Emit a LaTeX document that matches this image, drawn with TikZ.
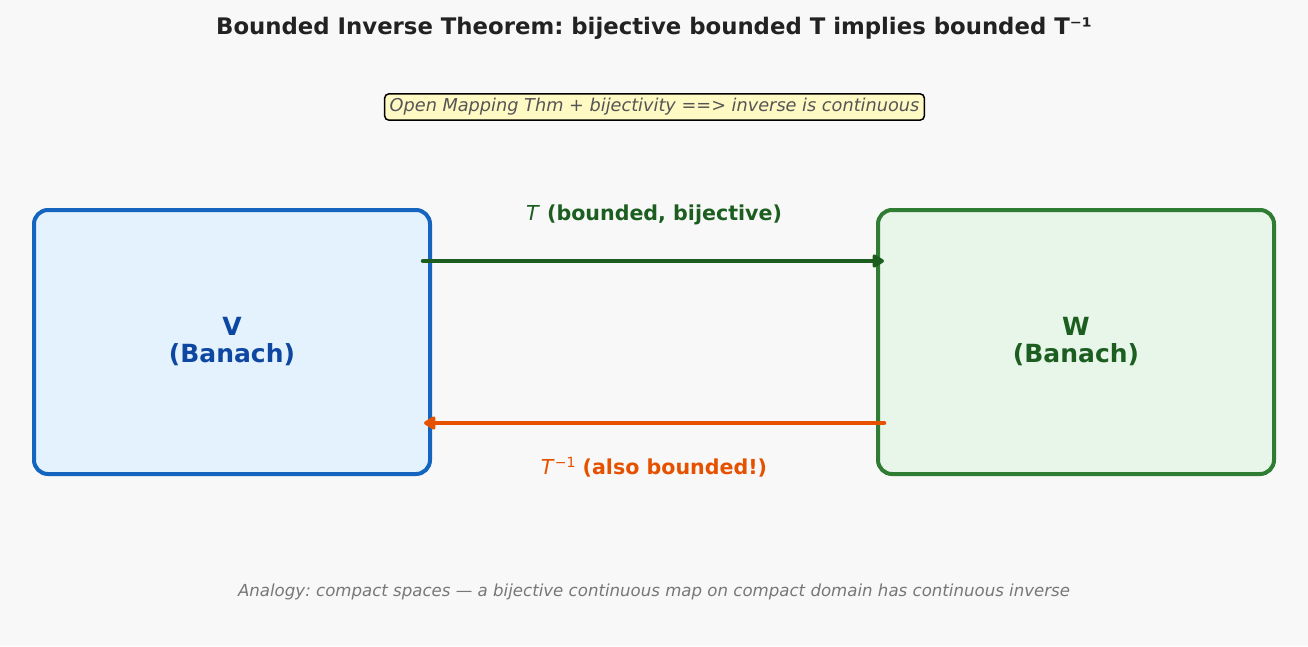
\documentclass[tikz,border=0pt]{standalone}
\usepackage{fontspec}
\setmainfont{DejaVu Sans}
\usetikzlibrary{positioning, arrows.meta}
\frenchspacing

\definecolor{bggray}{HTML}{F8F8F8}
\definecolor{titlegray}{HTML}{222222}
\definecolor{vblue}{HTML}{1565C0}
\definecolor{vfill}{HTML}{E3F2FD}
\definecolor{vtext}{HTML}{0D47A1}
\definecolor{wgreen}{HTML}{2E7D32}
\definecolor{wfill}{HTML}{E8F5E9}
\definecolor{wtext}{HTML}{1B5E20}
\definecolor{invorange}{HTML}{E65100}
\definecolor{notefill}{HTML}{FFF9C4}
\definecolor{notegray}{HTML}{555555}
\definecolor{footgray}{HTML}{777777}

\tikzset{
	space/.style={draw, line width=4pt, rounded corners=14pt, minimum width=396pt,
		minimum height=264pt, align=center, font=\bfseries\fontsize{25}{27}\selectfont},
	maparrow/.style={line width=4.5pt, line cap=round,
		-{Triangle[length=13pt,width=15pt,round]}},
	maplabel/.style={font=\bfseries\fontsize{20.6}{24}\selectfont}
}

\begin{document}
\begin{tikzpicture}[x=1pt,y=-1pt]
		\useasboundingbox[fill=bggray] (0,0) rectangle (1308,646);

		\node[titlegray, font=\bfseries\fontsize{22.8}{26}\selectfont] (title) at (654,28)
			{Bounded Inverse Theorem: bijective bounded T implies bounded T⁻¹};
		\node[draw=black, fill=notefill, text=notegray, line width=1.5pt, rounded corners=4pt,
			inner xsep=5pt, inner ysep=4.5pt, font=\itshape\fontsize{17.7}{20}\selectfont] (note) at (654.5,107)
			{Open Mapping Thm + bijectivity ==> inverse is continuous};

		\node[space, draw=vblue, fill=vfill, text=vtext] (V) at (232,342) {V\\(Banach)};
		\node[space, draw=wgreen, fill=wfill, text=wtext] (W) at (1076,342) {W\\(Banach)};

		\coordinate (Tstart) at ([shift={(-9,-81)}]V.east);
		\coordinate (Tend) at ([shift={(8,-81)}]W.west);
		\coordinate (Sstart) at ([shift={(8,81)}]W.west);
		\coordinate (Send) at ([shift={(-8,81)}]V.east);

		\draw[maparrow, wtext] (Tstart) -- (Tend);
		\draw[maparrow, invorange] (Sstart) -- (Send);

		\node[maplabel, wtext] (Tlab) at (654,215) {\textmd{\textit{T}} (bounded, bijective)};
		\node[maplabel, invorange] (Slab) at (654,467)
			{\textmd{\textit{T}\raisebox{7pt}{\fontsize{14}{16}\selectfont −1}} (also bounded!)};

		\node[footgray, font=\itshape\fontsize{16.6}{20}\selectfont] (foot) at (654,592)
			{Analogy: compact spaces — a bijective continuous map on compact domain has continuous inverse};
	\end{tikzpicture}
\end{document}
